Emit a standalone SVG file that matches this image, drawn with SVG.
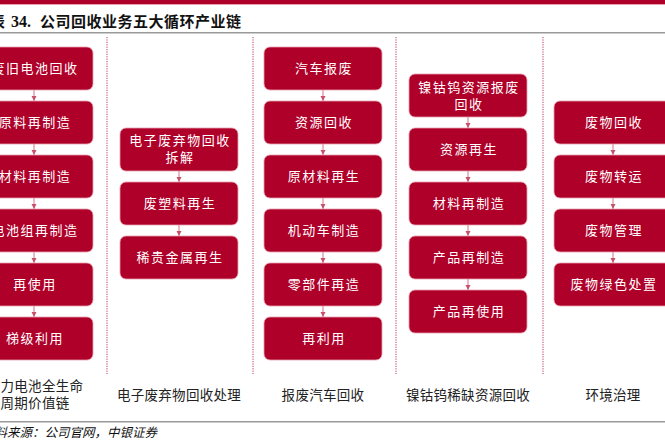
<svg xmlns="http://www.w3.org/2000/svg" width="665" height="445" viewBox="0 0 665 445">
<style>
.box{fill:#AF0029;stroke:#E8A0B0;stroke-width:0.8}
.bt{font-family:"Noto Sans CJK SC","Noto Sans",sans-serif;font-size:13px;fill:#FFFFFF;text-anchor:middle;letter-spacing:1.5px}
.lbl{font-family:"Noto Sans CJK SC","Noto Sans",sans-serif;font-size:13.5px;fill:#222222;text-anchor:middle;letter-spacing:0.3px}
.sep{stroke:#C03A58;stroke-width:1;stroke-dasharray:1.2 1.2}
.arr{stroke:#C8506A;stroke-width:0.8;fill:none;marker-end:url(#ah)}
</style>
<defs>
<marker id="ah" markerWidth="6" markerHeight="6" refX="5" refY="3" orient="auto" markerUnits="userSpaceOnUse">
<path d="M0,0.5 L5,3 L0,5.5 Z" fill="#C8506A"/>
</marker>
</defs>
<rect width="665" height="445" fill="#FFFFFF"/>
<rect x="0" y="0" width="665" height="4" fill="#AF0029"/>
<rect x="0" y="4" width="665" height="1" fill="#E8A0B0"/>
<text y="27" font-family="'Noto Sans CJK SC','Noto Sans',sans-serif" font-size="15" font-weight="bold" fill="#111111"><tspan x="-10">表</tspan><tspan x="11" font-family="'Liberation Serif',serif" font-size="16">34.</tspan><tspan x="40" letter-spacing="0.5">公司回收业务五大循环产业链</tspan></text>
<rect x="0" y="32" width="665" height="1.5" fill="#999999"/>
<rect x="0" y="421" width="665" height="1.5" fill="#999999"/>
<text x="-18" y="437" font-family="'Noto Sans CJK SC','Noto Sans',sans-serif" font-size="12.5" font-style="italic" fill="#111111">资料来源：公司官网，中银证券</text>
<g id="separators">
<line class="sep" x1="107" y1="37" x2="107" y2="374"/>
<line class="sep" x1="253" y1="37" x2="253" y2="374"/>
<line class="sep" x1="396" y1="37" x2="396" y2="374"/>
<line class="sep" x1="543" y1="37" x2="543" y2="374"/>
</g>
<g id="connectors">
<line class="arr" x1="34" y1="90" x2="34" y2="101"/>
<line class="arr" x1="34" y1="144" x2="34" y2="155"/>
<line class="arr" x1="34" y1="198" x2="34" y2="209"/>
<line class="arr" x1="34" y1="252" x2="34" y2="263"/>
<line class="arr" x1="34" y1="306" x2="34" y2="317"/>
<line class="arr" x1="179" y1="171" x2="179" y2="182"/>
<line class="arr" x1="179" y1="225" x2="179" y2="236"/>
<line class="arr" x1="323" y1="90" x2="323" y2="101"/>
<line class="arr" x1="323" y1="144" x2="323" y2="155"/>
<line class="arr" x1="323" y1="198" x2="323" y2="209"/>
<line class="arr" x1="323" y1="252" x2="323" y2="263"/>
<line class="arr" x1="323" y1="306" x2="323" y2="317"/>
<line class="arr" x1="468" y1="117" x2="468" y2="128"/>
<line class="arr" x1="468" y1="171" x2="468" y2="182"/>
<line class="arr" x1="468" y1="225" x2="468" y2="236"/>
<line class="arr" x1="468" y1="279" x2="468" y2="290"/>
<line class="arr" x1="613" y1="144" x2="613" y2="155"/>
<line class="arr" x1="613" y1="198" x2="613" y2="209"/>
<line class="arr" x1="613" y1="252" x2="613" y2="263"/>
</g>
<!-- Column 1 -->
<g id="c1n1"><rect class="box" x="-25" y="47" width="118" height="43" rx="6"/><text class="bt" x="35" y="73">废旧电池回收</text></g>
<g id="c1n2"><rect class="box" x="-25" y="101" width="118" height="43" rx="6"/><text class="bt" x="35" y="127">原料再制造</text></g>
<g id="c1n3"><rect class="box" x="-25" y="155" width="118" height="43" rx="6"/><text class="bt" x="35" y="181">材料再制造</text></g>
<g id="c1n4"><rect class="box" x="-25" y="209" width="118" height="43" rx="6"/><text class="bt" x="35" y="235">电池组再制造</text></g>
<g id="c1n5"><rect class="box" x="-25" y="263" width="118" height="43" rx="6"/><text class="bt" x="35" y="289">再使用</text></g>
<g id="c1n6"><rect class="box" x="-25" y="317" width="118" height="43" rx="6"/><text class="bt" x="35" y="343">梯级利用</text></g>
<g id="c1lbl"><text class="lbl"><tspan x="35" y="391">动力电池全生命</tspan><tspan x="35" y="408">周期价值链</tspan></text></g>
<!-- Column 2 -->
<g id="c2n1"><rect class="box" x="120" y="128" width="118" height="43" rx="6"/><text class="bt"><tspan x="180" y="145">电子废弃物回收</tspan><tspan x="180" y="162">拆解</tspan></text></g>
<g id="c2n2"><rect class="box" x="120" y="182" width="118" height="43" rx="6"/><text class="bt" x="180" y="208">废塑料再生</text></g>
<g id="c2n3"><rect class="box" x="120" y="236" width="118" height="43" rx="6"/><text class="bt" x="180" y="262">稀贵金属再生</text></g>
<g id="c2lbl"><text class="lbl" x="179" y="400">电子废弃物回收处理</text></g>
<!-- Column 3 -->
<g id="c3n1"><rect class="box" x="264" y="47" width="118" height="43" rx="6"/><text class="bt" x="324" y="73">汽车报废</text></g>
<g id="c3n2"><rect class="box" x="264" y="101" width="118" height="43" rx="6"/><text class="bt" x="324" y="127">资源回收</text></g>
<g id="c3n3"><rect class="box" x="264" y="155" width="118" height="43" rx="6"/><text class="bt" x="324" y="181">原材料再生</text></g>
<g id="c3n4"><rect class="box" x="264" y="209" width="118" height="43" rx="6"/><text class="bt" x="324" y="235">机动车制造</text></g>
<g id="c3n5"><rect class="box" x="264" y="263" width="118" height="43" rx="6"/><text class="bt" x="324" y="289">零部件再造</text></g>
<g id="c3n6"><rect class="box" x="264" y="317" width="118" height="43" rx="6"/><text class="bt" x="324" y="343">再利用</text></g>
<g id="c3lbl"><text class="lbl" x="323" y="400">报废汽车回收</text></g>
<!-- Column 4 -->
<g id="c4n1"><rect class="box" x="409" y="74" width="118" height="43" rx="6"/><text class="bt"><tspan x="469" y="92">镍钴钨资源报废</tspan><tspan x="469" y="109">回收</tspan></text></g>
<g id="c4n2"><rect class="box" x="409" y="128" width="118" height="43" rx="6"/><text class="bt" x="469" y="154">资源再生</text></g>
<g id="c4n3"><rect class="box" x="409" y="182" width="118" height="43" rx="6"/><text class="bt" x="469" y="208">材料再制造</text></g>
<g id="c4n4"><rect class="box" x="409" y="236" width="118" height="43" rx="6"/><text class="bt" x="469" y="262">产品再制造</text></g>
<g id="c4n5"><rect class="box" x="409" y="290" width="118" height="43" rx="6"/><text class="bt" x="469" y="316">产品再使用</text></g>
<g id="c4lbl"><text class="lbl" x="468" y="400">镍钴钨稀缺资源回收</text></g>
<!-- Column 5 -->
<g id="c5n1"><rect class="box" x="554" y="101" width="118" height="43" rx="6"/><text class="bt" x="614" y="127">废物回收</text></g>
<g id="c5n2"><rect class="box" x="554" y="155" width="118" height="43" rx="6"/><text class="bt" x="614" y="181">废物转运</text></g>
<g id="c5n3"><rect class="box" x="554" y="209" width="118" height="43" rx="6"/><text class="bt" x="614" y="235">废物管理</text></g>
<g id="c5n4"><rect class="box" x="554" y="263" width="118" height="43" rx="6"/><text class="bt" x="614" y="289">废物绿色处置</text></g>
<g id="c5lbl"><text class="lbl" x="613" y="400">环境治理</text></g>
</svg>
